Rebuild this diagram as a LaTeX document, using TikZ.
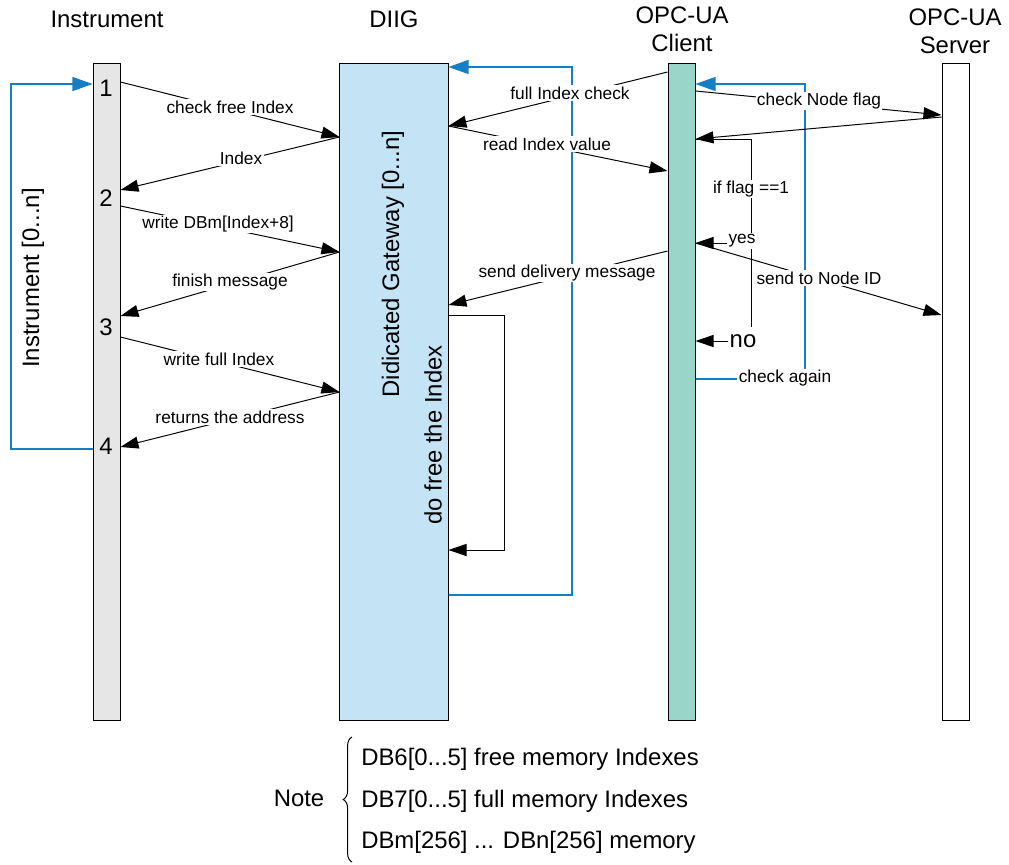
\documentclass[tikz,border=0pt]{standalone}
\usepackage{fontspec}
\setmainfont{Liberation Sans}
\usetikzlibrary{arrows.meta,decorations.pathreplacing}
\definecolor{instgray}{RGB}{230,230,230}
\definecolor{gatewayblue}{RGB}{196,228,246}
\definecolor{clientteal}{RGB}{154,213,202}
\definecolor{loopblue}{RGB}{22,126,194}

\begin{document}
\begin{tikzpicture}[x=0.025cm, y=-0.025cm,
    every node/.style={font=\fontsize{12.3}{14}\selectfont},
    big/.style={font=\fontsize{17}{20}\selectfont},
    lifeline/.style={draw, line width=0.7pt, inner sep=0pt, minimum height=16.4cm},
    msg/.style={-{Triangle[length=4.5mm,width=3mm]}, line width=0.7pt},
    back/.style={-{Triangle[length=5mm,width=3.5mm]}, loopblue, line width=0.9pt},
    lbl/.style={fill=white, text=black, inner sep=1pt}]
  \useasboundingbox (0,0) rectangle (1009,864);

  % lifelines
  \node[lifeline, fill=instgray, minimum width=0.675cm] (inst) at (106.5,392) {};
  \node[lifeline, fill=gatewayblue, minimum width=2.7cm] (diig) at (394,392) {};
  \node[lifeline, fill=clientteal, minimum width=0.675cm] (client) at (681.5,392) {};
  \node[lifeline, fill=white, minimum width=0.675cm] (server) at (955.5,392) {};

  % headers
  \node[big] (hinst) at (107,19) {Instrument};
  \node[big] (hdiig) at (394,19) {DIIG};
  \node[big, align=center] (hclient) at (682,29) {OPC-UA\\Client};
  \node[big, align=center] (hserver) at (955,31) {OPC-UA\\Server};

  % steps of the instrument
  \foreach \n/\y in {1/88,2/198,3/327,4/446}
    \node[big] (s\n) at (106,\y) {\n};

  \node[big, rotate=90] (instn) at (33,278) {Instrument [0...n]};
  \node[big, rotate=90] (gwname) at (393,264) {Didicated Gateway [0...n]};
  \node[big, rotate=90] (dofree) at (433,435) {do free the Index};

  % blue loops back
  \coordinate (instloop) at (11,84);
  \coordinate (gwloop) at (572,67);
  \coordinate (clientloop) at (805,84);
  \draw[back] (inst.west |- 0,449) -| (instloop) -- (inst.west |- instloop);
  \draw[back] (diig.east |- 0,595) -| (gwloop) -- (diig.east |- gwloop);
  \draw[back] (client.east |- 0,379) -| (clientloop) -- (client.east |- clientloop)
    node[lbl] at (785,378) {check again};

  % flag decision
  \coordinate (flagtop) at (751,139);
  \coordinate (flagend) at (751,327);
  \draw[line width=0.7pt] (client.east |- flagtop) -- (flagtop) -- (flagend)
    node[lbl] at (751,189) {if flag ==1};
  \draw[msg] (flagtop |- 0,243) -- (client.east |- 0,243) node[lbl] at (742,241) {yes};
  \node[big, inner sep=1pt] (no) at (743,341) {no};
  \draw[msg] (no.west) -- (client.east |- no.west);

  % instrument <-> gateway
  \foreach \ya/\yb/\lx/\ly/\txt in {82/137/230/107/check free Index,
      206/252/218/224/write DBm[Index+8], 337/392/219/359/write full Index}
    \draw[msg] (inst.east |- 0,\ya) -- (diig.west |- 0,\yb) node[lbl] at (\lx,\ly) {\txt};
  \foreach \ya/\yb/\lx/\ly/\txt in {137/190/241/158/Index,
      252/316/230/282/finish message, 392/447/230/417/returns the address}
    \draw[msg] (diig.west |- 0,\ya) -- (inst.east |- 0,\yb) node[lbl] at (\lx,\ly) {\txt};

  % gateway self loop
  \draw[msg] (diig.east |- 0,315) -| (504,550) -- (diig.east |- 0,550);

  % client <-> gateway
  \draw[msg] (client.west |- 0,72) -- (diig.east |- 0,126) node[lbl] at (570,93) {full Index check};
  \draw[msg] (diig.east |- 0,126) -- (client.west |- 0,171) node[lbl] at (547,144) {read Index value};
  \draw[msg] (client.west |- 0,251) -- (diig.east |- 0,305) node[lbl] at (567,273) {send delivery message};

  % client <-> server
  \draw[msg] (client.east |- 0,91) -- (server.west |- 0,115) node[lbl] at (819,101) {check Node flag};
  \draw[msg] (server.west |- 0,117) -- (client.east |- flagtop);
  \draw[msg] (client.east |- 0,243) -- (server.west |- 0,315) node[lbl] at (819,278) {send to Node ID};

  % note
  \node[big] (note) at (299,798) {Note};
  \draw[line width=0.7pt, decorate, decoration={brace, amplitude=0.22cm}] (352,862) -- (352,737);
  \node[big, anchor=west, inner sep=0pt] (db6) at (361,759) {DB6[0...5] free memory Indexes};
  \node[big, anchor=west, inner sep=0pt] (db7) at (361,801) {DB7[0...5] full memory Indexes};
  \node[big, anchor=west, inner sep=0pt] (dbm) at (361,842) {DBm[256] ... DBn[256] memory};
\end{tikzpicture}
\end{document}
